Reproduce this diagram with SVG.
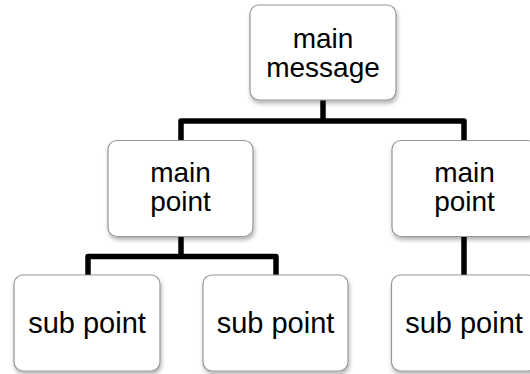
<svg xmlns="http://www.w3.org/2000/svg" width="530" height="374" viewBox="0 0 530 374">
  <defs>
    <filter id="shadow" x="-10%" y="-10%" width="125%" height="130%">
      <feDropShadow dx="1" dy="3" stdDeviation="2.2" flood-color="#000" flood-opacity="0.3"/>
    </filter>
    <style>
      .box { fill: #ffffff; stroke: #969696; stroke-width: 1.2; filter: url(#shadow); }
      .lbl { font-family: "Liberation Sans", Arial, sans-serif; font-size: 28px; fill: #000; text-anchor: middle; }
      .sub { font-family: "Liberation Sans", Arial, sans-serif; font-size: 29px; fill: #000; text-anchor: middle; }
      .conn { fill: none; stroke: #000; stroke-width: 5.5; stroke-linejoin: round; stroke-linecap: butt; }
    </style>
  </defs>
  <rect width="530" height="374" fill="#ffffff"/>
  <g id="connectors">
    <path class="conn" d="M323,100 V121"/>
    <path class="conn" d="M181,140 V121 H464 V140"/>
    <path class="conn" d="M181,236 V256.5"/>
    <path class="conn" d="M88,275 V256.5 H276 V275"/>
    <path class="conn" d="M464,236 V275"/>
  </g>
  <g id="main-message">
    <rect class="box" x="250" y="5" width="146" height="95" rx="9"/>
    <text class="lbl" x="323" y="48">main</text>
    <text class="lbl" x="323" y="77">message</text>
  </g>
  <g id="main-point-1">
    <rect class="box" x="108" y="140.5" width="145" height="96" rx="9"/>
    <text class="lbl" x="180.5" y="182">main</text>
    <text class="lbl" x="180.5" y="211">point</text>
  </g>
  <g id="main-point-2">
    <rect class="box" x="392" y="140.5" width="145" height="96" rx="9"/>
    <text class="lbl" x="464.5" y="182">main</text>
    <text class="lbl" x="464.5" y="211">point</text>
  </g>
  <g id="sub-point-1">
    <rect class="box" x="14" y="275" width="146" height="96" rx="9"/>
    <text class="sub" x="87" y="333">sub point</text>
  </g>
  <g id="sub-point-2">
    <rect class="box" x="203" y="275" width="145" height="96" rx="9"/>
    <text class="sub" x="275.5" y="333">sub point</text>
  </g>
  <g id="sub-point-3">
    <rect class="box" x="391.5" y="275" width="146" height="96" rx="9"/>
    <text class="sub" x="464" y="333">sub point</text>
  </g>
</svg>
